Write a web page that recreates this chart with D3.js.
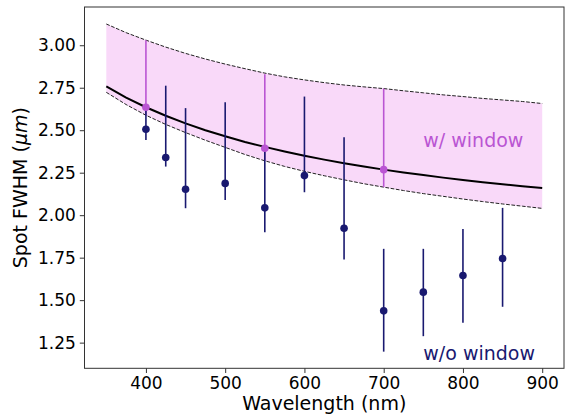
<!DOCTYPE html>
<html>
<head>
<meta charset="utf-8">
<script src="https://cdn.jsdelivr.net/npm/d3@7"></script>
<style>
  body { margin: 0; background: #fff; }
  text { font-family: "DejaVu Sans", sans-serif; fill: #000; }
</style>
</head>
<body>
<div class="chart"></div>
<script>
// model curve (fit) sampled along wavelength, nm
const waveGrid = [350, 375, 400, 425, 450, 475, 500, 525, 550, 575, 600, 625, 650, 675, 700, 725, 750, 775, 800, 825, 850, 875, 900];
const fitMid = [2.758, 2.692, 2.635, 2.585, 2.540, 2.500, 2.464, 2.431, 2.402, 2.375, 2.350, 2.327, 2.306, 2.286, 2.268, 2.251, 2.236, 2.221, 2.207, 2.194, 2.182, 2.170, 2.160];
const fitHigh = [3.125, 3.074, 3.030, 2.989, 2.952, 2.919, 2.889, 2.862, 2.836, 2.814, 2.796, 2.780, 2.766, 2.755, 2.745, 2.732, 2.720, 2.708, 2.698, 2.687, 2.678, 2.669, 2.657];
const fitLow = [2.723, 2.651, 2.588, 2.534, 2.486, 2.441, 2.399, 2.357, 2.320, 2.287, 2.258, 2.232, 2.208, 2.185, 2.165, 2.145, 2.127, 2.111, 2.095, 2.080, 2.066, 2.053, 2.040];

// measured spots without window
const noWinWave = [400, 425, 450, 500, 550, 600, 650, 700, 750, 800, 850];
const noWinFwhm = [2.506, 2.339, 2.153, 2.187, 2.043, 2.233, 1.923, 1.437, 1.547, 1.645, 1.745];
const noWinLow = [2.443, 2.286, 2.041, 2.089, 1.900, 2.135, 1.739, 1.197, 1.288, 1.367, 1.461];
const noWinHigh = [2.620, 2.762, 2.630, 2.665, 2.390, 2.698, 2.459, 1.802, 1.802, 1.918, 2.043];

// measured spots with window
const winWave = [400, 550, 700];
const winFwhm = [2.635, 2.394, 2.268];
const winLow = [2.588, 2.320, 2.165];
const winHigh = [3.030, 2.830, 2.745];

const xTicks = [400, 500, 600, 700, 800, 900];
const yTicks = [1.25, 1.50, 1.75, 2.00, 2.25, 2.50, 2.75, 3.00];

const width = 566, height = 415;
const plotL = 84.5, plotR = 564, plotT = 7, plotB = 368.3;
const navy = "#191970", orchid = "#ba55d3";

const svg = d3.select(".chart")
  .append("svg")
  .attr("width", width)
  .attr("height", height);

const x = d3.scaleLinear().domain([322.5, 927.5]).range([plotL, plotR]);
const y = d3.scaleLinear().domain([1.099, 3.225]).range([plotB, plotT]);

const grid = waveGrid.map((w, i) => ({ w, mid: fitMid[i], hi: fitHigh[i], lo: fitLow[i] }));

//shaded band between the dashed bounds
svg.append("path")
  .datum(grid)
  .attr("fill", "#f9d9f9")
  .attr("d", d3.area().x(d => x(d.w)).y0(d => y(d.lo)).y1(d => y(d.hi)));

const line = key => d3.line().x(d => x(d.w)).y(d => y(d[key]));

["hi", "lo"].forEach(k => {
  svg.append("path")
    .datum(grid)
    .attr("fill", "none")
    .attr("stroke", "#222")
    .attr("stroke-width", 1)
    .attr("stroke-dasharray", "3.7,1.6")
    .attr("d", line(k));
});

svg.append("path")
  .datum(grid)
  .attr("fill", "none")
  .attr("stroke", "#000")
  .attr("stroke-width", 2)
  .attr("d", line("mid"));

//error bars + markers
const drawBars = (wave, lo, hi, color) => {
  svg.append("g").selectAll("line")
    .data(wave)
    .join("line")
    .attr("x1", d => x(d)).attr("x2", d => x(d))
    .attr("y1", (d, i) => y(lo[i]))
    .attr("y2", (d, i) => y(hi[i]))
    .attr("stroke", color)
    .attr("stroke-width", 1.6);
};
const drawDots = (wave, val, color) => {
  svg.append("g").selectAll("circle")
    .data(wave)
    .join("circle")
    .attr("cx", d => x(d))
    .attr("cy", (d, i) => y(val[i]))
    .attr("r", 3.8)
    .attr("fill", color);
};

drawBars(winWave, winLow, winHigh, orchid);
drawBars(noWinWave, noWinLow, noWinHigh, navy);
drawDots(noWinWave, noWinFwhm, navy);
drawDots(winWave, winFwhm, orchid);

//labels inside the plot
svg.append("text")
  .attr("x", x(750)).attr("y", y(2.40))
  .style("font-size", "19px")
  .style("fill", orchid)
  .text("w/ window");
svg.append("text")
  .attr("x", x(750)).attr("y", y(1.15))
  .style("font-size", "19px")
  .style("fill", navy)
  .text("w/o window");

//axes
const xAxis = svg.append("g")
  .attr("transform", `translate(0,${plotB})`)
  .call(d3.axisBottom(x).tickValues(xTicks).tickSize(4.7).tickPadding(3.5).tickFormat(d3.format("d")));
const yAxis = svg.append("g")
  .attr("transform", `translate(${plotL},0)`)
  .call(d3.axisLeft(y).tickValues(yTicks).tickSize(4.7).tickPadding(4).tickFormat(d3.format(".2f")));

[xAxis, yAxis].forEach(a => {
  a.select(".domain").remove();
  a.selectAll("line").attr("stroke", "#333").attr("stroke-width", 1);
  a.selectAll("text").style("font-size", "17px").style("font-family", "DejaVu Sans").attr("fill", "#000");
});

//frame
svg.append("rect")
  .attr("x", plotL).attr("y", plotT)
  .attr("width", plotR - plotL).attr("height", plotB - plotT)
  .attr("fill", "none")
  .attr("stroke", "#333")
  .attr("stroke-width", 1);

svg.append("text")
  .attr("x", (plotL + plotR) / 2).attr("y", 409.5)
  .style("text-anchor", "middle")
  .style("font-size", "19px")
  .text("Wavelength (nm)");

const yl = svg.append("text")
  .attr("transform", `translate(26.5,${(plotT + plotB) / 2}) rotate(-90)`)
  .style("text-anchor", "middle")
  .style("font-size", "19px");
yl.append("tspan").text("Spot FWHM (");
yl.append("tspan").style("font-style", "italic").text("μm");
yl.append("tspan").text(")");
</script>
</body>
</html>
